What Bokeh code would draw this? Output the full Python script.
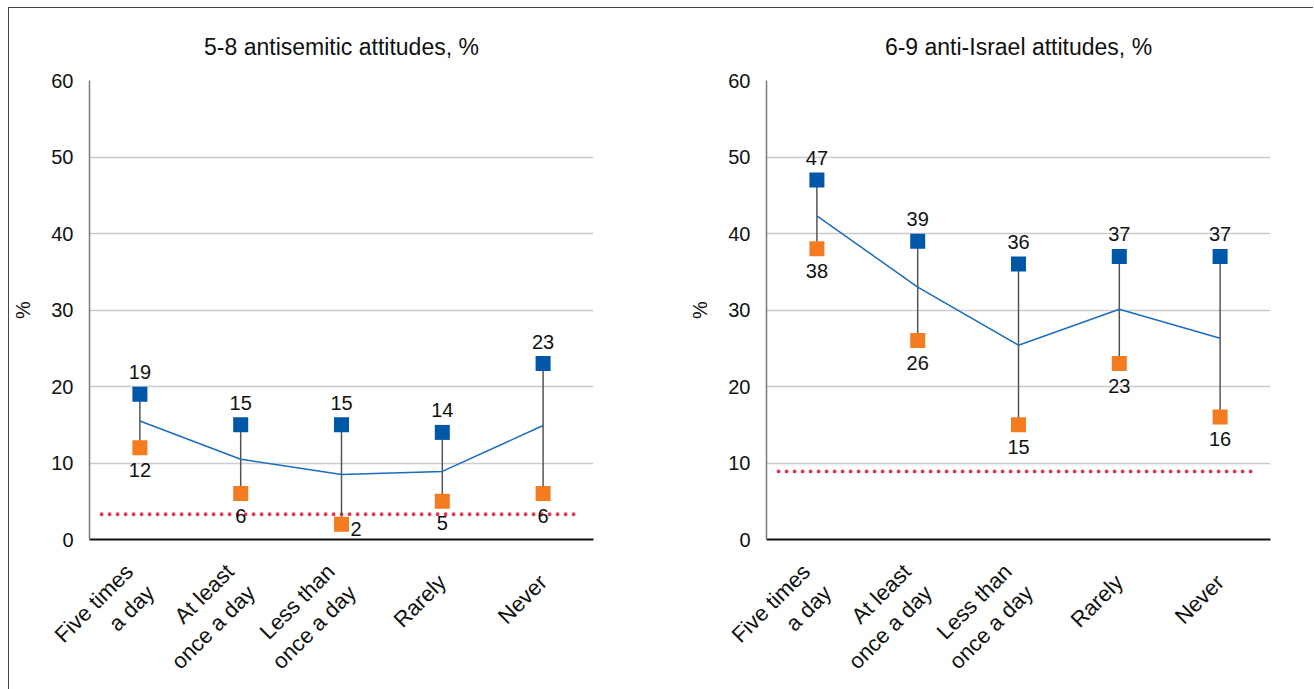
import math
from bokeh.plotting import figure
from bokeh.layouts import row
from bokeh.models import ColumnDataSource, FixedTicker, FactorRange, Range1d
from bokeh.core.properties import value
from bokeh.embed import file_html
from bokeh.resources import INLINE

categories = ["Five times\na day", "At least\nonce a day", "Less than\nonce a day", "Rarely", "Never"]

left_title = "5-8 antisemitic attitudes, %"
left_high = [19, 15, 15, 14, 23]
left_low = [12, 6, 2, 5, 6]
left_avg = [15.5, 10.5, 8.5, 8.9, 14.9]
left_ref = 3.3

right_title = "6-9 anti-Israel attitudes, %"
right_high = [47, 39, 36, 37, 37]
right_low = [38, 26, 15, 23, 16]
right_avg = [42.3, 33.0, 25.4, 30.1, 26.3]
right_ref = 8.9

y_ticks = [0, 10, 20, 30, 40, 50, 60]

FONT = "Liberation Sans"
BLUE = "#0057a8"
ORANGE = "#f47b20"
LINE_BLUE = "#1a6dbf"
RED = "#e8344e"
TXT = "#111111"


def make_panel(title, high, low, avg, ref, min_left, min_right):
    p = figure(
        x_range=FactorRange(*categories, range_padding=0),
        y_range=Range1d(0, 60),
        frame_width=504, frame_height=459,
        min_border_left=min_left, min_border_right=min_right,
        min_border_top=72, min_border_bottom=125,
        output_backend="svg", toolbar_location=None,
        title=title,
    )
    p.title.align = "center"
    p.title.text_font = FONT
    p.title.text_font_size = "23px"
    p.title.text_font_style = "normal"
    p.title.text_color = TXT
    p.title.standoff = 42

    p.outline_line_color = None
    p.background_fill_color = "white"
    p.border_fill_color = "white"

    p.xgrid.grid_line_color = None
    p.ygrid.grid_line_color = "#cccccc"
    p.ygrid.grid_line_width = 1.5
    p.yaxis.ticker = FixedTicker(ticks=y_ticks)

    p.yaxis.axis_line_color = "#7a7a7a"
    p.yaxis.axis_line_width = 1.5
    p.yaxis.major_tick_line_color = None
    p.yaxis.minor_tick_line_color = None
    p.yaxis.major_label_text_font = FONT
    p.yaxis.major_label_text_font_size = "20px"
    p.yaxis.major_label_text_color = TXT
    p.yaxis.major_label_standoff = 10
    p.yaxis.axis_label = "%"
    p.yaxis.axis_label_text_font = FONT
    p.yaxis.axis_label_text_font_size = "20px"
    p.yaxis.axis_label_text_font_style = "normal"
    p.yaxis.axis_label_text_color = TXT
    p.yaxis.axis_label_standoff = 14

    p.xaxis.axis_line_color = TXT
    p.xaxis.axis_line_width = 2
    p.xaxis.major_tick_line_color = None
    p.xaxis.minor_tick_line_color = None
    p.xaxis.major_label_orientation = math.pi / 4
    p.xaxis.major_label_text_font = FONT
    p.xaxis.major_label_text_font_size = "22px"
    p.xaxis.major_label_text_color = TXT
    p.xaxis.major_label_standoff = 33
    # keep single-line labels on the first-line position of two-line labels
    p.xaxis.major_label_overrides = {c: c + "\n" for c in categories if "\n" not in c}

    src = ColumnDataSource(dict(cat=categories, high=high, low=low, avg=avg,
                                high_txt=[str(v) for v in high],
                                low_txt=[str(v) for v in low]))

    # reference dotted line
    p.segment(x0=[(categories[0], -0.38)], y0=[ref], x1=[(categories[-1], 0.38)], y1=[ref],
              line_color=RED, line_width=3.8, line_dash="0 8", line_cap="round")

    # connectors
    p.segment(x0="cat", y0="low", x1="cat", y1="high", source=src,
              line_color="#555555", line_width=1.5)

    # average line
    p.line(x="cat", y="avg", source=src, line_color=LINE_BLUE, line_width=1.5)

    p.scatter(x="cat", y="high", source=src, marker="square", size=15,
              fill_color=BLUE, line_color=None)
    p.scatter(x="cat", y="low", source=src, marker="square", size=15,
              fill_color=ORANGE, line_color=None)

    p.text(x="cat", y="high", text="high_txt", source=src, y_offset=-22,
           text_align="center", text_baseline="middle", text_font=value(FONT),
           text_font_size="20px", text_color=TXT)

    below_idx = [i for i in range(len(categories)) if low[i] >= ref]
    side_idx = [i for i in range(len(categories)) if low[i] < ref]
    if below_idx:
        s1 = ColumnDataSource(dict(cat=[categories[i] for i in below_idx],
                                   y=[low[i] for i in below_idx],
                                   t=[str(low[i]) for i in below_idx]))
        p.text(x="cat", y="y", text="t", source=s1, y_offset=22,
               text_align="center", text_baseline="middle", text_font=value(FONT),
               text_font_size="20px", text_color=TXT)
    if side_idx:
        s2 = ColumnDataSource(dict(cat=[categories[i] for i in side_idx],
                                   y=[low[i] for i in side_idx],
                                   t=[str(low[i]) for i in side_idx]))
        p.text(x="cat", y="y", text="t", source=s2, x_offset=9, y_offset=5,
               text_align="left", text_baseline="middle", text_font=value(FONT),
               text_font_size="20px", text_color=TXT)
    return p


p1 = make_panel(left_title, left_high, left_low, left_avg, left_ref, 77, 69)
p2 = make_panel(right_title, right_high, right_low, right_avg, right_ref, 104, 43)

layout = row(p1, p2, spacing=0,
             styles={"border-left": "1px solid #444444", "border-top": "1px solid #444444",
                     "background-color": "white", "margin-left": "8px", "margin-top": "7px"})

open("out.html", "w").write(file_html(layout, INLINE))
